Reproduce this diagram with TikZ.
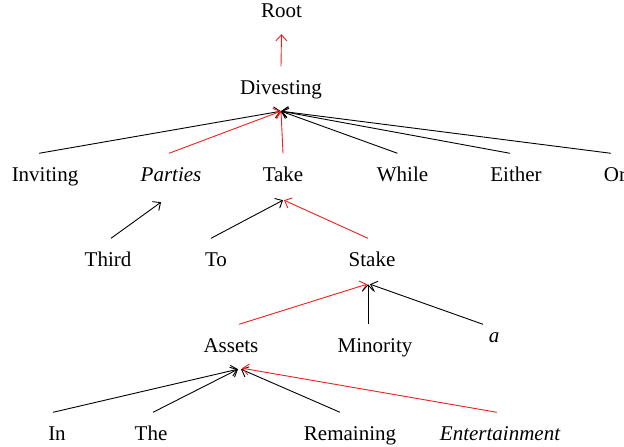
\documentclass[tikz,border=0pt]{standalone}
\usepackage{fontspec}
\setmainfont{Liberation Serif}
\usetikzlibrary{arrows.meta}
\definecolor{headred}{RGB}{240,30,30}
\begin{document}
\begin{tikzpicture}[x=1pt,y=-1pt,
  word/.style={anchor=base, font=\fontsize{21}{25}\selectfont,
    text height=20.5pt, text depth=10pt, inner ysep=7pt, inner xsep=1pt},
  dep/.style={line width=0.9pt, -{Straight Barb[length=6pt,width=11pt]}},
  head/.style={dep, draw=headred}]
\useasboundingbox (0,0) rectangle (624,447);

% words, placed by their baselines
\node[word] (root)   at (281.5,17) {Root};
\node[word] (divest) at (281,94)   {Divesting};

\node[word] (inviting) at (45,181)  {Inviting};
\node[word] (parties)  at (171,181) {\itshape Parties};
\node[word] (take)     at (283,181) {Take};
\node[word] (while)    at (402.5,181) {While};
\node[word] (either)   at (516,181) {Either};
\node[word] (or)       at (615,181) {Or};

\node[word] (third) at (108,266) {Third};
\node[word] (to)    at (216,266) {To};
\node[word] (stake) at (372,266) {Stake};

\node[word] (assets)   at (231,352) {Assets};
\node[word] (minority) at (375,352) {Minority};
\node[word] (a)        at (494,352) {\raisebox{10pt}{\itshape a}};

\node[word] (in)        at (57,440)  {In};
\node[word] (the)       at (151,440) {The};
\node[word] (remaining) at (350,440) {Remaining};
\node[word] (entertain) at (500,440) {\itshape Entertainment};

% dependency arcs, child to head
\draw[head] (divest.north) -- (root.south);

\draw[dep]  ([xshift=-6pt]inviting.north) -- (divest.south);
\draw[head] ([xshift=-2pt]parties.north)  -- (divest.south);
\draw[head] (take.north)                  -- (divest.south);
\draw[dep]  ([xshift=-5pt]while.north)    -- (divest.south);
\draw[dep]  ([xshift=-6pt]either.north)   -- (divest.south);
\draw[dep]  ([xshift=-4pt]or.north)       -- (divest.south);

\draw[dep]  ([xshift=3pt]third.north) -- ([xshift=-10pt,yshift=-4pt]parties.south);
\draw[dep]  ([xshift=-5pt]to.north)   -- ([yshift=-2pt]take.south);
\draw[head] ([xshift=-4pt]stake.north) -- ([xshift=1pt,yshift=-2pt]take.south);

\draw[head] ([xshift=8pt]assets.north)    -- ([xshift=-5pt,yshift=-1pt]stake.south);
\draw[dep]  ([xshift=-7pt]minority.north) -- ([xshift=-4pt,yshift=-1pt]stake.south);
\draw[dep]  ([xshift=-11pt]a.north)       -- ([xshift=-2pt,yshift=-1pt]stake.south);

\draw[dep]  ([xshift=-4pt]in.north)         -- ([xshift=7pt]assets.south);
\draw[dep]  ([xshift=2pt]the.north)         -- ([xshift=7pt]assets.south);
\draw[dep]  ([xshift=-10pt]remaining.north) -- ([xshift=10pt]assets.south);
\draw[head] ([xshift=-3pt]entertain.north)  -- ([xshift=11pt,yshift=1pt]assets.south);
\end{tikzpicture}
\end{document}
